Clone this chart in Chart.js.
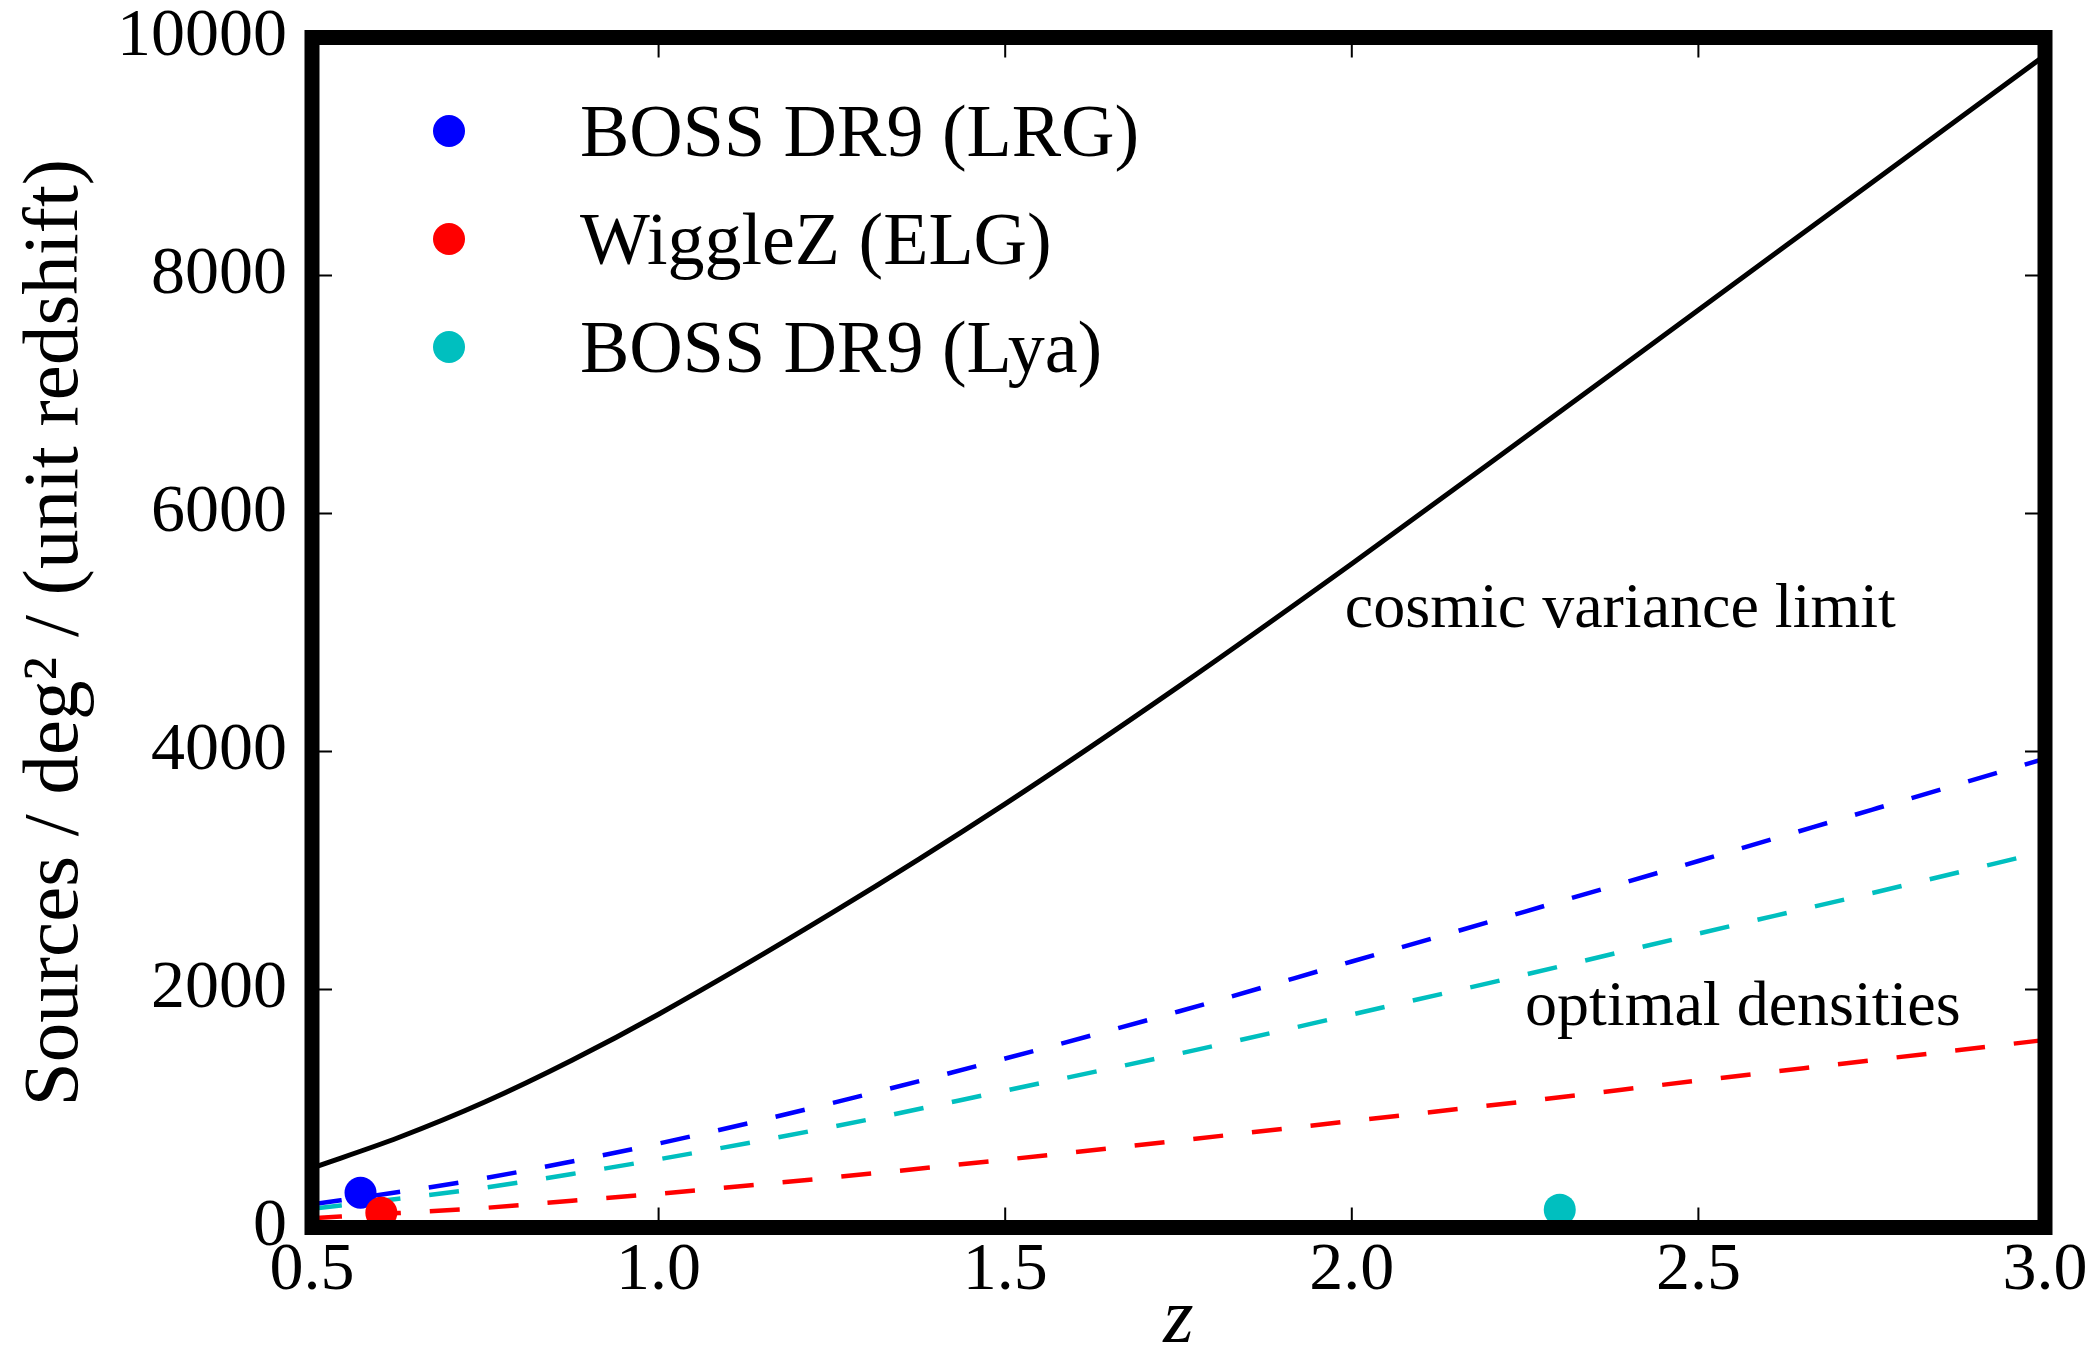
<!DOCTYPE html>
<html lang="en">
<head>
<meta charset="UTF-8">
<title>Sources per unit redshift</title>
<style>
  html, body { margin: 0; padding: 0; background: #fff; }
  canvas { display: block; }
</style>
</head>
<body>
<canvas id="densityChart" width="2096" height="1352"></canvas>
<script src="https://cdn.jsdelivr.net/npm/chart.js"></script>
<script>
// redshift grid the model curves are sampled on
const zGrid = [0.5, 0.625, 0.75, 0.875, 1.0, 1.25, 1.5, 1.75, 2.0, 2.25, 2.5, 2.75, 3.0];
const cosmicLimit = [500, 756, 1056, 1405, 1792, 2643, 3560, 4545, 5578, 6640, 7710, 8780, 9850];
const lrgOptimal = [195, 298, 415, 555, 705, 1045, 1420, 1815, 2235, 2655, 3080, 3510, 3940];
const lyaOptimal = [158, 242, 335, 450, 573, 845, 1150, 1460, 1790, 2125, 2470, 2810, 3160];
const elgOptimal = [78, 121, 165, 225, 284, 420, 570, 730, 895, 1060, 1235, 1405, 1576];

// measured survey densities
const surveyNames = ['BOSS DR9 (LRG)', 'WiggleZ (ELG)', 'BOSS DR9 (Lya)'];
const surveyZ = [0.57, 0.60, 2.30];
const surveyDensity = [292, 124, 150];

const xTickValues = [0.5, 1.0, 1.5, 2.0, 2.5, 3.0];
const yTickValues = [0, 2000, 4000, 6000, 8000, 10000];

const BLUE = '#0000ff';
const RED = '#ff0000';
const CYAN = '#00bfbf';
const surveyColors = [BLUE, RED, CYAN];

const notes = [
    { text: 'cosmic variance limit', z: 1.99, v: 5045 },
    { text: 'optimal densities', z: 2.25, v: 1700 }
];

Chart.defaults.font.family = '"Liberation Serif", "DejaVu Serif", serif';
Chart.defaults.color = '#000';

function curve(values) {
    return zGrid.map((z, i) => ({ x: z, y: values[i] }));
}

function modelLine(label, values, color, dashed) {
    return {
        type: 'line',
        label: label,
        data: curve(values),
        borderColor: color,
        borderWidth: dashed ? 4.5 : 5,
        borderDash: dashed ? [30, 29] : [],
        pointRadius: 0,
        cubicInterpolationMode: 'monotone',
        fill: false,
        order: 5
    };
}

function surveyPoint(i, order) {
    return {
        type: 'scatter',
        label: surveyNames[i],
        data: [{ x: surveyZ[i], y: surveyDensity[i] }],
        pointRadius: 16,
        pointBorderWidth: 0,
        pointBackgroundColor: surveyColors[i],
        backgroundColor: surveyColors[i],
        order: order
    };
}

// thick box round the plot with inward ticks on every side
const framePlugin = {
    id: 'frame',
    afterDraw(chart) {
        const { ctx, chartArea: a, scales: { x, y } } = chart;
        ctx.save();
        ctx.strokeStyle = '#000';
        ctx.lineWidth = 2;
        ctx.beginPath();
        x.ticks.forEach(t => {
            const px = x.getPixelForValue(t.value);
            ctx.moveTo(px, a.bottom);
            ctx.lineTo(px, a.bottom - 20);
            ctx.moveTo(px, a.top);
            ctx.lineTo(px, a.top + 20);
        });
        y.ticks.forEach(t => {
            const py = y.getPixelForValue(t.value);
            ctx.moveTo(a.left, py);
            ctx.lineTo(a.left + 20, py);
            ctx.moveTo(a.right, py);
            ctx.lineTo(a.right - 20, py);
        });
        ctx.stroke();
        ctx.lineWidth = 15;
        ctx.strokeRect(a.left, a.top, a.right - a.left, a.bottom - a.top);
        ctx.restore();
    }
};

const notePlugin = {
    id: 'notes',
    afterDatasetsDraw(chart) {
        const { ctx, scales: { x, y } } = chart;
        ctx.save();
        ctx.font = '64px "Liberation Serif"';
        ctx.fillStyle = '#000';
        ctx.textBaseline = 'alphabetic';
        notes.forEach(n => {
            ctx.fillText(n.text, x.getPixelForValue(n.z), y.getPixelForValue(n.v));
        });
        ctx.restore();
    }
};

const legendPlugin = {
    id: 'surveyLegend',
    afterDraw(chart) {
        const { ctx, chartArea: a } = chart;
        ctx.save();
        ctx.font = '74px "Liberation Serif"';
        ctx.textBaseline = 'alphabetic';
        surveyNames.forEach((name, i) => {
            const cy = a.top + 93.5 + i * 108;
            ctx.fillStyle = surveyColors[i];
            ctx.beginPath();
            ctx.arc(a.left + 137, cy, 16, 0, Math.PI * 2);
            ctx.fill();
            ctx.fillStyle = '#000';
            ctx.fillText(name, a.left + 268, cy + 25);
        });
        ctx.restore();
    }
};

new Chart(document.getElementById('densityChart'), {
    data: {
        datasets: [
            surveyPoint(1, 0),
            surveyPoint(0, 1),
            surveyPoint(2, 2),
            modelLine('cosmic variance limit', cosmicLimit, '#000', false),
            modelLine('LRG optimal', lrgOptimal, BLUE, true),
            modelLine('Lya optimal', lyaOptimal, CYAN, true),
            modelLine('ELG optimal', elgOptimal, RED, true)
        ]
    },
    options: {
        responsive: false,
        devicePixelRatio: 1,
        animation: false,
        events: [],
        layout: { padding: { top: 37.5, right: 51, bottom: 0, left: 0 } },
        plugins: {
            legend: { display: false },
            tooltip: { enabled: false }
        },
        scales: {
            x: {
                type: 'linear',
                min: 0.5,
                max: 3.0,
                grid: { display: false, drawTicks: false },
                border: { display: false },
                afterBuildTicks: s => { s.ticks = xTickValues.map(v => ({ value: v })); },
                afterFit: s => { s.height = 124.5; },
                ticks: {
                    font: { size: 68, lineHeight: 1.2 },
                    padding: 3,
                    maxRotation: 0,
                    autoSkip: false,
                    callback: v => v.toFixed(1)
                },
                title: {
                    display: true,
                    text: 'z',
                    font: { size: 78, style: 'italic', lineHeight: 0.6 },
                    padding: { top: 0, bottom: 7 }
                }
            },
            y: {
                type: 'linear',
                min: 0,
                max: 10000,
                grid: { display: false, drawTicks: false },
                border: { display: false },
                afterBuildTicks: s => { s.ticks = yTickValues.map(v => ({ value: v })); },
                afterFit: s => { s.width = 312; },
                ticks: {
                    // small line height keeps the top label from pushing the plot down
                    font: { size: 68, lineHeight: 0.3 },
                    padding: 25,
                    autoSkip: false,
                    callback: v => String(v)
                },
                title: {
                    display: true,
                    text: 'Sources / deg² / (unit redshift)',
                    font: { size: 79, lineHeight: 1.2 },
                    padding: { top: 9, bottom: 0 }
                }
            }
        }
    },
    plugins: [notePlugin, framePlugin, legendPlugin]
});
</script>
</body>
</html>
